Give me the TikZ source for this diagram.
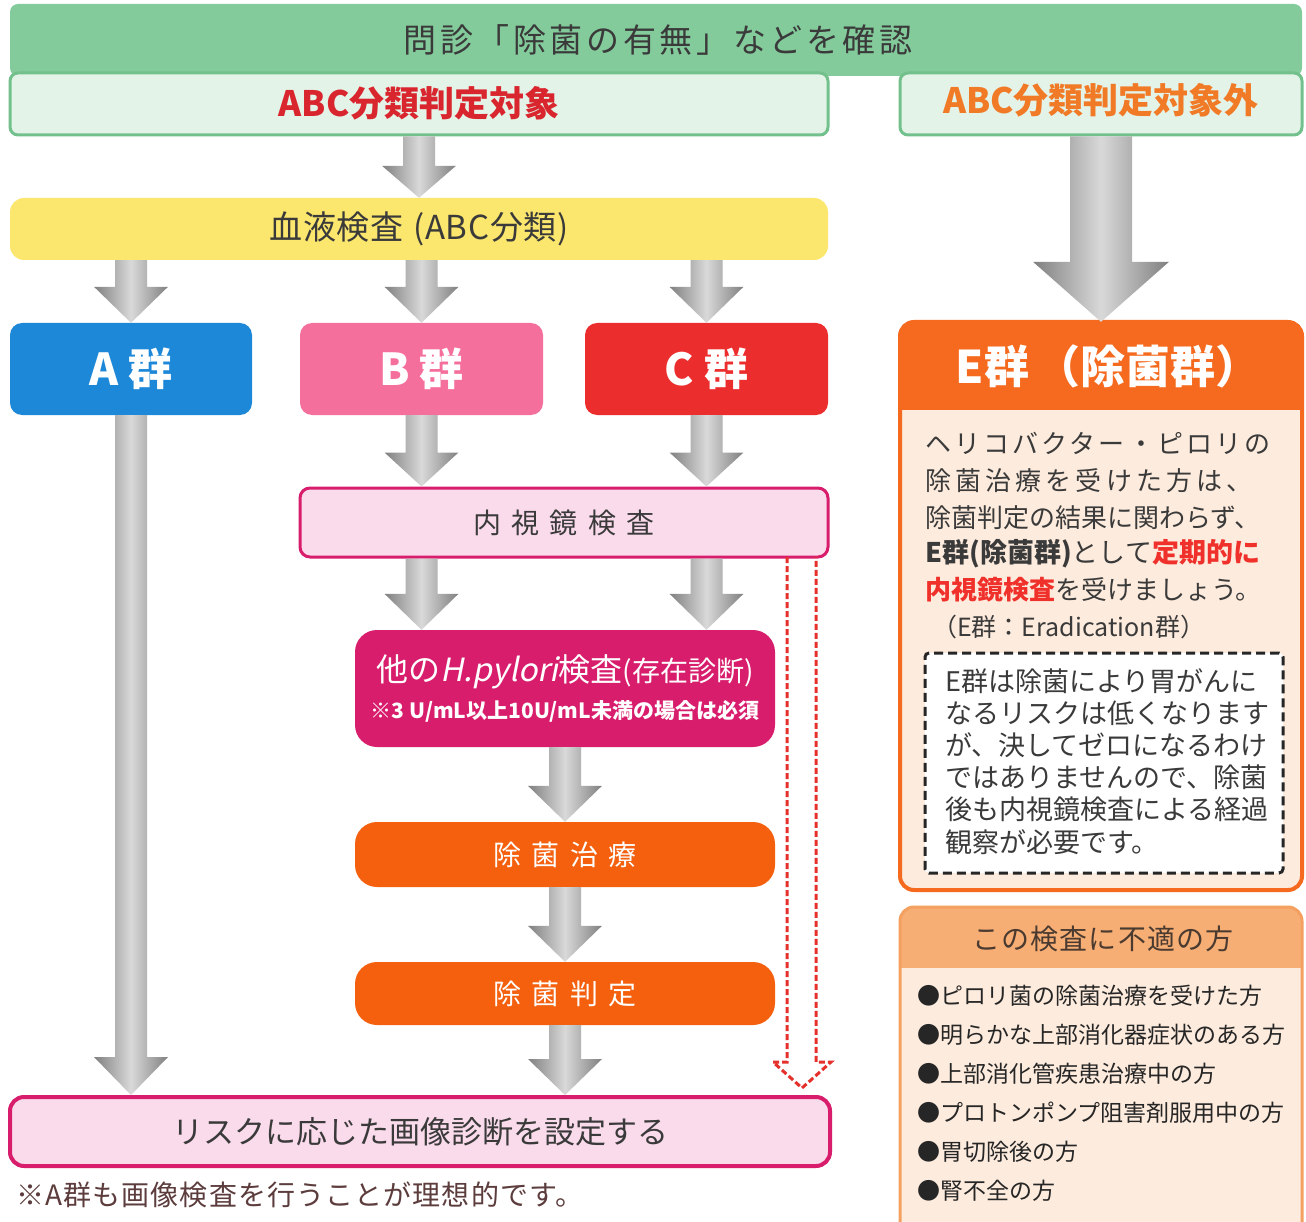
\documentclass[tikz,border=0pt]{standalone}
\usepackage{fontspec}
\setmainfont{Noto Sans CJK JP}
\newfontfamily\jpsl{Noto Sans CJK JP}[FakeSlant=0.2]
\usetikzlibrary{calc}
\newcommand\fsz[1]{\fontsize{#1}{#1}\selectfont}
\newcommand\lsp[1]{\addfontfeature{LetterSpace=#1}}
\definecolor{gband}{HTML}{84CB9C}
\definecolor{gline}{HTML}{72C18C}
\definecolor{gpale}{HTML}{E4F3E8}
\definecolor{ylw}{HTML}{FCE76E}
\definecolor{blueA}{HTML}{1E88D8}
\definecolor{pinkB}{HTML}{F56F9C}
\definecolor{redC}{HTML}{EC2D2E}
\definecolor{mag}{HTML}{D71D6C}
\definecolor{pinkpale}{HTML}{FADBEB}
\definecolor{orng}{HTML}{F4600E}
\definecolor{eorange}{HTML}{F56A1E}
\definecolor{peach}{HTML}{FDEBDD}
\definecolor{lorange}{HTML}{F7AE74}
\definecolor{lorline}{HTML}{F4A060}
\definecolor{txtdark}{HTML}{3A3A3A}
\definecolor{abcred}{HTML}{D9262E}
\definecolor{abcorange}{HTML}{F07A26}
\definecolor{dred}{HTML}{E5302C}
\definecolor{notebrown}{HTML}{5C3C3C}
\definecolor{ered}{HTML}{F0302A}
\definecolor{hdrbrown}{HTML}{4A3A30}
\tikzset{
  box/.style={rectangle, rounded corners=10pt, inner sep=0pt},
  grp/.style={box, rounded corners=12pt, text=white, font=\fsz{44}\bfseries},
  orbox/.style={box, rounded corners=22pt, fill=orng, text=white, font=\fsz{28}\lsp{36}},
  pinkline/.style={box, fill=pinkpale, draw=mag, line width=3pt},
  ebody/.style={anchor=west, inner sep=0pt, text=txtdark},
}
\newcommand{\barrow}[5]{%
  \shade[left color=black!50, right color=black!50, middle color=black!15]
   let \p1=(#1), \p2=(#2) in
   (\x1-#3pt,\y1) -- (\x1+#3pt,\y1) -- (\x1+#3pt,\y2+#5pt) -- (\x1+#4pt,\y2+#5pt)
   -- (\x1,\y2) -- (\x1-#4pt,\y2+#5pt) -- (\x1-#3pt,\y2+#5pt) -- cycle;}
\begin{document}
\begin{tikzpicture}[x=1pt,y=-1pt]
\useasboundingbox (0,0) rectangle (1306,1222);
\fill[white] (0,0) rectangle (1306,1222);

% top banner
\node[box, rounded corners=8pt, fill=gband, minimum width=1292pt, minimum height=72pt] (ask) at (656,40) {};
\node[box, rounded corners=8pt, fill=gpale, draw=gline, line width=3pt, minimum width=818pt, minimum height=62pt] (abc) at (419,104) {};
\node[box, rounded corners=8pt, fill=gpale, draw=gline, line width=3pt, minimum width=402pt, minimum height=62pt] (nabc) at (1101,104) {};
\node[text=txtdark, font=\fsz{33}\lsp{11}] (asktxt) at (658,40) {問診「除菌の有無」などを確認};
\node[text=abcred, font=\fsz{35}\bfseries] (abctxt) at (419,103) {ABC分類判定対象};
\node[text=abcorange, font=\fsz{35}\bfseries] (nabctxt) at (1101,100) {ABC分類判定対象外};

% left flow
\node[box, rounded corners=14pt, fill=ylw, minimum width=818pt, minimum height=62pt, text=txtdark, font=\fsz{33}\lsp{2}] (blood) at (419,229) {血液検査\hspace{10pt}(ABC分類)};
\node[grp, fill=blueA, minimum width=242pt, minimum height=92pt] (A) at (131,369) {A\hspace{10pt}群};
\node[grp, fill=pinkB, minimum width=243pt, minimum height=92pt] (B) at (421.5,369) {B\hspace{10pt}群};
\node[grp, fill=redC, minimum width=243pt, minimum height=92pt] (C) at (706.5,369) {C\hspace{10pt}群};
\node[pinkline, minimum width=528pt, minimum height=69pt, text=txtdark, font=\fsz{28}\lsp{36}] (endo) at (564,522.5) {内視鏡検査};
\node[box, rounded corners=22pt, fill=mag, minimum width=420pt, minimum height=117pt, text=white, align=center] (hp) at (565,688.5)
  {{\fsz{32}他の{\jpsl H.pylori}検査{\fsz{28}(存在診断)}}\\[10pt]{\fsz{21}\bfseries ※3 U/mL以上10U/mL未満の場合は必須}};
\node[orbox, minimum width=420pt, minimum height=65pt] (erad) at (565,854.5) {除菌治療};
\node[orbox, minimum width=420pt, minimum height=63pt] (judge) at (565,993.5) {除菌判定};
\node[pinkline, line width=4pt, rounded corners=14pt, minimum width=820pt, minimum height=69pt, text=txtdark, font=\fsz{31}] (risk) at (420,1131.5) {リスクに応じた画像診断を設定する};
\node[anchor=west, inner sep=0pt, text=notebrown, font=\fsz{28}\lsp{4}] (note) at (16,1195) {※A群も画像検査を行うことが理想的です。};

% block arrows
\barrow{abc.south}{blood.north}{16}{37}{32}
\barrow{blood.south -| A.north}{A.north}{16}{37}{36}
\barrow{blood.south -| B.north}{B.north}{16}{37}{36}
\barrow{blood.south -| C.north}{C.north}{16}{37}{36}
\barrow{A.south}{risk.north -| A.south}{16}{37}{38}
\barrow{B.south}{endo.north -| B.south}{16}{37}{34}
\barrow{C.south}{endo.north -| C.south}{16}{37}{34}
\barrow{endo.south -| B.south}{hp.north -| B.south}{16}{37}{36}
\barrow{endo.south -| C.south}{hp.north -| C.south}{16}{37}{36}
\barrow{hp.south}{erad.north}{16}{37}{36}
\barrow{erad.south}{judge.north}{16}{37}{36}
\barrow{judge.south}{risk.north -| judge.south}{16}{37}{36}

% red dashed outline arrow
\coordinate (rdtop) at (801,557);
\coordinate (rdtip) at (802,1088);
\draw[dred, line width=3pt, dash pattern=on 6pt off 3pt, line join=miter]
  ($(rdtop)+(-14,0)$) -- ($(rdtip)+(-15,-26)$) -- ($(rdtip)+(-29,-26)$) -- (rdtip)
  -- ($(rdtip)+(29,-26)$) -- ($(rdtip)+(14,-26)$) -- ($(rdtop)+(15,0)$);

% E group box
\node[box, rounded corners=14pt, fill=peach, minimum width=402pt, minimum height=568pt] (ebox) at (1101,606) {};
\begin{scope}
  \clip[rounded corners=14pt] (900,322) rectangle (1302,890);
  \fill[eorange] (900,322) rectangle (1302,410);
\end{scope}
\draw[eorange, line width=4pt, rounded corners=14pt] (900,322) rectangle (1302,890);
\node[text=white, font=\fsz{45}\bfseries] (etitle) at (1108,366) {E群\hspace{6pt}（除菌群）};
\barrow{nabc.south}{ebox.north}{31}{68}{60}

\node[ebody, font=\fsz{26}\lsp{12}] (eb1) at (925,443) {ヘリコバクター・ピロリの};
\node[ebody, font=\fsz{26}\lsp{16}] (eb2) at (925,481) {除菌治療を受けた方は、};
\node[ebody, font=\fsz{26}] (eb3) at (925,518) {除菌判定の結果に関わらず、};
\node[ebody, font=\fsz{27}] (eb4) at (925,554) {{\bfseries E群(除菌群)}として{\color{ered}\bfseries 定期的に}};
\node[ebody, font=\fsz{26}] (eb5) at (925,590) {{\color{ered}\bfseries 内視鏡検査}を受けましょう。};
\node[ebody, font=\fsz{25}] (eb6) at (932,627) {（E群：Eradication群）};

\node[box, rounded corners=4pt, fill=white, draw=black!85, line width=3pt, dash pattern=on 9pt off 5pt,
  minimum width=358pt, minimum height=220pt] (enote) at (1104,763) {};
\node[anchor=north west, inner sep=0pt, align=left, text=txtdark, font=\fontsize{27}{32.2}\selectfont, text width=340pt] (enotetxt) at (945,668)
  {E群は除菌により胃がんに\\なるリスクは低くなります\\が、決してゼロになるわけ\\ではありませんので、除菌\\後も内視鏡検査による経過\\観察が必要です。};

% unsuitable box
\node[box, rounded corners=14pt, fill=peach, minimum width=402pt, minimum height=330pt] (unfit) at (1101,1072) {};
\begin{scope}
  \clip[rounded corners=14pt] (900,907) rectangle (1302,1237);
  \fill[lorange] (900,907) rectangle (1302,968);
\end{scope}
\draw[lorline, line width=3pt, rounded corners=14pt] (900,907) rectangle (1302,1237);
\node[text=hdrbrown, font=\fsz{28}\lsp{4}] (unfittitle) at (1103,939) {この検査に不適の方};
\node[anchor=north west, inner sep=0pt, align=left, text=black!85, font=\fontsize{23}{39}\selectfont, text width=380pt] (unfitlist) at (917,985)
  {●ピロリ菌の除菌治療を受けた方\\●明らかな上部消化器症状のある方\\●上部消化管疾患治療中の方\\●プロトンポンプ阻害剤服用中の方\\●胃切除後の方\\●腎不全の方};
\end{tikzpicture}
\end{document}
